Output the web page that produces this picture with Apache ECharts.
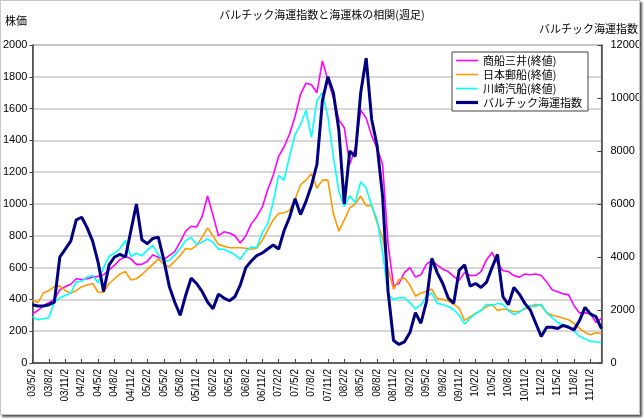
<!DOCTYPE html>
<html><head><meta charset="utf-8">
<script src="https://cdn.jsdelivr.net/npm/echarts/dist/echarts.min.js"></script>
<style>
html,body{margin:0;padding:0;background:#fff;}
#c{width:644px;height:420px;}
#f{position:absolute;left:0;top:0;width:638px;height:413px;border:1px solid #c8c8c8;box-shadow:2px 2px 2px #555;pointer-events:none;}
</style>
</head><body><div id="c"></div><div id="f"></div>
<script>
var categories = [
"03/5/2","03/6/2","03/7/2","03/8/2","03/9/2","03/10/2","03/11/2","03/12/2",
"04/1/2","04/2/2","04/3/2","04/4/2","04/5/2","04/6/2","04/7/2","04/8/2","04/9/2","04/10/2","04/11/2","04/12/2",
"05/1/2","05/2/2","05/3/2","05/4/2","05/5/2","05/6/2","05/7/2","05/8/2","05/9/2","05/10/2","05/11/2","05/12/2",
"06/1/2","06/2/2","06/3/2","06/4/2","06/5/2","06/6/2","06/7/2","06/8/2","06/9/2","06/10/2","06/11/2","06/12/2",
"07/1/2","07/2/2","07/3/2","07/4/2","07/5/2","07/6/2","07/7/2","07/8/2","07/9/2","07/10/2","07/11/2","07/12/2",
"08/1/2","08/2/2","08/3/2","08/4/2","08/5/2","08/6/2","08/7/2","08/8/2","08/9/2","08/10/2","08/11/2","08/12/2",
"09/1/2","09/2/2","09/3/2","09/4/2","09/5/2","09/6/2","09/7/2","09/8/2","09/9/2","09/10/2","09/11/2","09/12/2",
"10/1/2","10/2/2","10/3/2","10/4/2","10/5/2","10/6/2","10/7/2","10/8/2","10/9/2","10/10/2","10/11/2","10/12/2",
"11/1/2","11/2/2","11/3/2","11/4/2","11/5/2","11/6/2","11/7/2","11/8/2","11/9/2","11/10/2","11/11/2","11/12/2",
"12/1/2"];

var mitsuiOSK = [
310,330,360,380,400,460,480,495,530,525,
530,540,545,555,585,615,650,670,655,620,
620,640,680,665,650,675,700,760,830,860,
855,920,1050,930,800,825,818,800,755,800,
875,920,980,1090,1180,1300,1360,1440,1550,1690,
1760,1750,1700,1900,1780,1670,1530,1480,1250,1350,
1590,1540,1430,1350,1250,750,485,500,570,600,
540,555,620,645,615,590,575,545,520,570,
550,550,575,650,695,630,580,575,550,540,
560,555,560,550,510,460,448,435,430,360,
315,315,310,255,280];

var nyk = [
395,380,440,455,480,485,455,440,455,480,
490,500,445,445,500,530,560,575,522,530,
555,590,620,655,620,606,640,675,720,715,
740,790,850,800,745,735,725,725,725,722,
715,722,770,835,900,940,945,960,1030,1120,
1150,1190,1100,1150,1150,940,830,900,975,1000,
1050,990,990,880,790,590,465,525,535,490,
420,440,450,465,405,400,390,370,344,268,
290,312,330,354,370,330,340,335,322,325,
340,354,370,360,318,300,292,282,272,250,
218,192,178,190,186];

var kline = [
290,272,278,285,385,410,425,440,510,515,
540,550,505,600,670,690,720,770,670,690,
675,710,740,680,640,645,680,720,770,790,
745,760,780,760,715,715,700,680,652,705,
730,725,820,875,1010,1180,1150,1300,1435,1500,
1590,1420,1650,1700,1550,1300,1080,985,1050,1010,
1140,1100,990,900,700,430,400,410,410,380,
340,365,418,440,375,368,355,335,300,245,
280,310,330,370,360,375,370,330,305,320,
345,362,356,370,315,285,255,240,230,200,
168,152,135,134,128];

var bdi = [
2200,2150,2150,2200,2300,4000,4300,4600,5400,5500,
5100,4600,3800,2700,3700,4000,4100,4000,5000,6000,
4650,4500,4700,4750,3900,2900,2300,1800,2550,3200,
3000,2700,2300,2050,2600,2450,2350,2500,2950,3600,
3850,4050,4150,4300,4450,4300,5000,5500,6200,5600,
6100,6700,7500,9900,10800,10200,8800,6000,8000,7800,
10200,11500,9200,8200,6300,2700,850,700,800,1150,
1900,1500,2300,3950,3400,3000,2450,2250,3500,3700,
2900,3000,2850,3050,3600,4100,2500,2200,2850,2600,
2250,2000,1500,1000,1350,1350,1300,1420,1350,1250,
1600,2100,1850,1750,1300];

var leftTicks = {min:0, max:2000, interval:200};
var rightTicks = {min:0, max:12000, interval:2000};

var FONT = '"Liberation Sans","Noto Sans CJK JP",sans-serif';
var JFONT = '"Noto Sans CJK JP","Liberation Sans",sans-serif';
var thinIcon = 'path://M0,0h22v1.6h-22z';
var thickIcon = 'path://M0,0h22v3.2h-22z';
var plain = function (v) { return String(v); };

var chart = echarts.init(document.getElementById('c'), null, {renderer:'canvas'});
chart.setOption({
  animation:false,
  backgroundColor:'#fff',
  graphic:[
    {type:'text', left:'center', top:9, style:{text:'バルチック海運指数と海運株の相関(週足)', font:'11px '+JFONT, fill:'#000'}},
    {type:'text', left:5, top:15, style:{text:'株価', font:'11px '+JFONT, fill:'#000'}},
    {type:'text', right:6, top:23, style:{text:'バルチック海運指数', font:'11px '+JFONT, fill:'#000'}}
  ],
  legend:{
    orient:'vertical', left:452, top:52,
    itemWidth:22, itemHeight:10, itemGap:3,
    symbolKeepAspect:true,
    padding:[3,6,3,4],
    borderColor:'#404040', borderWidth:1, backgroundColor:'#fff',
    textStyle:{fontSize:11, fontFamily:JFONT, color:'#000'},
    data:[
      {name:'商船三井(終値)', icon:thinIcon},
      {name:'日本郵船(終値)', icon:thinIcon},
      {name:'川崎汽船(終値)', icon:thinIcon},
      {name:'バルチック海運指数', icon:thickIcon}
    ]
  },
  grid:{left:32, right:41, top:45, bottom:57, show:true, borderColor:'#808080', borderWidth:1},
  xAxis:{
    type:'category', data:categories, boundaryGap:false,
    axisLine:{lineStyle:{color:'#404040', width:1.5}},
    axisTick:{interval:2, inside:true, length:4, lineStyle:{color:'#404040'}},
    axisLabel:{interval:2, rotate:90, fontSize:10, fontFamily:FONT, color:'#000', margin:6},
    splitLine:{show:false}
  },
  yAxis:[
    {type:'value', min:leftTicks.min, max:leftTicks.max, interval:leftTicks.interval,
     axisLine:{show:true, lineStyle:{color:'#404040', width:1.5}},
     axisTick:{show:true, length:3, lineStyle:{color:'#404040'}},
     axisLabel:{fontSize:11, fontFamily:FONT, color:'#000', margin:5, formatter:plain},
     splitLine:{lineStyle:{color:'#c8c8c8', width:1.5}}},
    {type:'value', min:rightTicks.min, max:rightTicks.max, interval:rightTicks.interval,
     axisLine:{show:true, lineStyle:{color:'#404040', width:1.5}},
     axisTick:{show:true, inside:true, length:4, lineStyle:{color:'#404040'}},
     axisLabel:{fontSize:11, fontFamily:FONT, color:'#000', margin:9, formatter:plain},
     splitLine:{show:false}}
  ],
  series:[
    {name:'商船三井(終値)', type:'line', data:mitsuiOSK, symbol:'none', yAxisIndex:0,
     itemStyle:{color:'#FF00FF'}, lineStyle:{color:'#FF00FF', width:1.6}},
    {name:'日本郵船(終値)', type:'line', data:nyk, symbol:'none', yAxisIndex:0,
     itemStyle:{color:'#FF9900'}, lineStyle:{color:'#FF9900', width:1.6}},
    {name:'川崎汽船(終値)', type:'line', data:kline, symbol:'none', yAxisIndex:0,
     itemStyle:{color:'#00FFFF'}, lineStyle:{color:'#00FFFF', width:1.6}},
    {name:'バルチック海運指数', type:'line', data:bdi, symbol:'none', yAxisIndex:1,
     itemStyle:{color:'#000080'}, lineStyle:{color:'#000080', width:3}}
  ]
});
</script></body></html>
